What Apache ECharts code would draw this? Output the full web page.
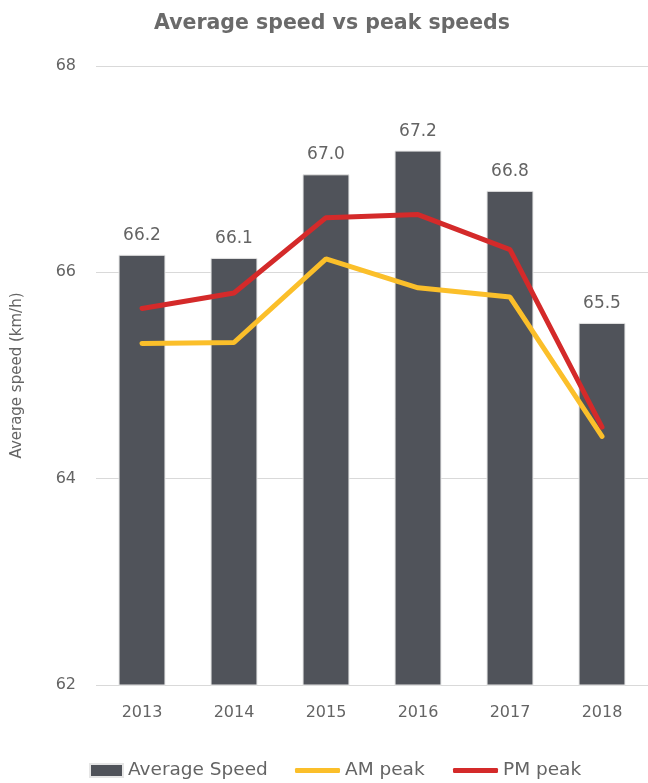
<!DOCTYPE html>
<html>
<head>
<meta charset="utf-8">
<script src="https://cdn.jsdelivr.net/npm/echarts@6/dist/echarts.min.js"></script>
<style>
  html, body { margin: 0; padding: 0; background: #fff; }
  #chart { width: 648px; height: 783px; }
</style>
</head>
<body>
<div id="chart"></div>
<script>
// Annual average speed with AM / PM peak-period speeds (km/h)
const years = ['2013', '2014', '2015', '2016', '2017', '2018'];
const averageSpeed = [66.17, 66.14, 66.95, 67.18, 66.79, 65.51];
const amPeak = [65.31, 65.32, 66.13, 65.85, 65.76, 64.41];
const pmPeak = [65.65, 65.80, 66.53, 66.56, 66.22, 64.50];
const yTicks = { min: 62, max: 68, interval: 2 };

const FONT = 'DejaVu Sans';
const TEXT = '#646464';
const legendText = { fontFamily: FONT, fontSize: 18.5, color: TEXT };

// one legend block per entry so each can sit at its own x position
function legendItem(name, left, icon, w, h) {
  return {
    data: [{ name: name, icon: icon }],
    left: left,
    top: 756,
    itemWidth: w,
    itemHeight: h,
    textStyle: legendText
  };
}

const chart = echarts.init(document.getElementById('chart'));
chart.setOption({
  animation: false,
  textStyle: { fontFamily: FONT },
  title: {
    text: 'Average speed vs peak speeds',
    left: 149,
    top: 8,
    textStyle: { fontFamily: FONT, fontSize: 20.5, fontWeight: 'bold', color: '#6a6a6a' }
  },
  legend: [
    legendItem('Average Speed', 84, 'rect', 33, 13),
    legendItem('AM peak', 290, 'roundRect', 45, 5),
    legendItem('PM peak', 448, 'roundRect', 45, 5)
  ],
  grid: { left: 96, right: 0, top: 66, bottom: 98 },
  xAxis: {
    type: 'category',
    data: years,
    axisLine: { show: false },
    axisTick: { show: false },
    axisLabel: { fontFamily: FONT, fontSize: 16, color: TEXT, margin: 20 }
  },
  yAxis: {
    type: 'value',
    min: yTicks.min,
    max: yTicks.max,
    interval: yTicks.interval,
    name: 'Average speed (km/h)',
    nameLocation: 'middle',
    nameGap: 71,
    nameTextStyle: { fontFamily: FONT, fontSize: 15, color: TEXT },
    axisLine: { show: false },
    axisTick: { show: false },
    axisLabel: { fontFamily: FONT, fontSize: 16, color: TEXT, margin: 20 },
    splitLine: { lineStyle: { color: '#d9d9d9', width: 1 } }
  },
  series: [
    {
      name: 'Average Speed',
      type: 'bar',
      data: averageSpeed,
      barWidth: '51%',
      itemStyle: { color: '#50535a', borderColor: '#e6e6e6', borderWidth: 1 },
      label: {
        show: true,
        position: 'top',
        distance: 11,
        fontFamily: FONT,
        fontSize: 17,
        color: TEXT,
        formatter: p => p.value.toFixed(1)
      },
      z: 1
    },
    {
      name: 'AM peak',
      type: 'line',
      data: amPeak,
      symbol: 'none',
      lineStyle: { color: '#fbbf2a', width: 5, cap: 'round' },
      itemStyle: { color: '#fbbf2a' },
      z: 3
    },
    {
      name: 'PM peak',
      type: 'line',
      data: pmPeak,
      symbol: 'none',
      lineStyle: { color: '#d42a2a', width: 5, cap: 'round' },
      itemStyle: { color: '#d42a2a' },
      z: 4
    }
  ]
});
</script>
</body>
</html>
